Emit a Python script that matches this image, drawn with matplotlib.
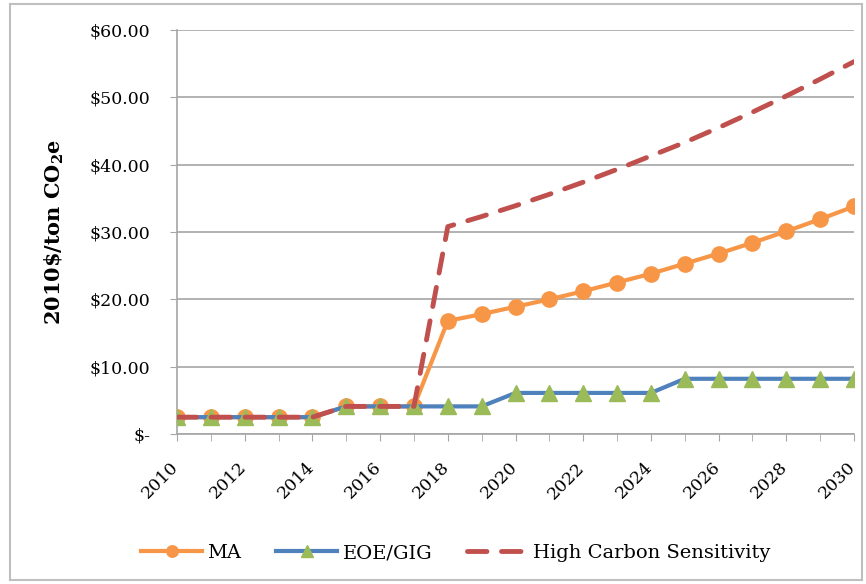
import matplotlib
matplotlib.use("Agg")
import matplotlib.pyplot as plt
from matplotlib.patches import Rectangle
from matplotlib.ticker import FuncFormatter
from matplotlib.transforms import ScaledTranslation

years = list(range(2010, 2031))
ma = [2.5, 2.5, 2.5, 2.5, 2.5, 4.1, 4.1, 4.1, 16.8, 17.8, 18.9, 20.0, 21.2,
      22.5, 23.8, 25.3, 26.8, 28.4, 30.1, 31.9, 33.8]
eoe_gig = [2.5, 2.5, 2.5, 2.5, 2.5, 4.1, 4.1, 4.1, 4.1, 4.1, 6.1, 6.1, 6.1,
           6.1, 6.1, 8.2, 8.2, 8.2, 8.2, 8.2, 8.2]
high_carbon = [2.5, 2.5, 2.5, 2.5, 2.5, 4.1, 4.1, 4.1, 30.8, 32.3, 33.9, 35.6,
               37.4, 39.3, 41.3, 43.3, 45.5, 47.8, 50.2, 52.7, 55.3]
y_ticks = [0, 10, 20, 30, 40, 50, 60]
x_ticks = list(range(2010, 2031, 2))

plt.rcParams['font.family'] = ['DejaVu Serif']
plt.rcParams['mathtext.fontset'] = 'dejavuserif'

fig = plt.figure(figsize=(8.66, 5.84), dpi=100)
ax = fig.add_axes([177/866, 1-434/584, (854-177)/866, (434-30)/584])

fig.patches.append(Rectangle((10/866, 4/584), 852/866, 576/584, transform=fig.transFigure,
                             fill=False, edgecolor='#BFBFBF', linewidth=1.5))

ax.plot(years, ma, color='#F79646', lw=3, marker='o', ms=11,
        markerfacecolor='#F79646', markeredgecolor='#F79646', label='MA', zorder=3)
ax.plot(years, eoe_gig, color='#4F81BD', lw=3, marker='^', ms=11,
        markerfacecolor='#9BBB59', markeredgecolor='#9BBB59', label='EOE/GIG', zorder=4)
ax.plot(years, high_carbon, color='#C0504D', lw=3.5, ls=(0, (4, 3)),
        label='High Carbon Sensitivity', zorder=5, dash_capstyle='round')

ax.set_xlim(2010, 2030)
ax.set_ylim(0, 60)
ax.set_yticks(y_ticks)
ax.set_xticks(x_ticks)
ax.set_xticks(years, minor=True)
ax.yaxis.set_major_formatter(FuncFormatter(lambda v, p: '$-' if v == 0 else f'${v:.2f}'))
ax.grid(axis='y', color='#A6A6A6', lw=1.2)
ax.set_axisbelow(True)
for s in ['top', 'right']:
    ax.spines[s].set_visible(False)
ax.spines['left'].set_color('#A6A6A6')
ax.spines['bottom'].set_color('#A6A6A6')
ax.spines['left'].set_linewidth(1.2)
ax.spines['bottom'].set_linewidth(1.2)
ax.tick_params(axis='y', length=5, color='#A6A6A6', labelsize=12.5, pad=14)
ax.tick_params(axis='x', which='both', length=5, color='#A6A6A6', labelsize=12.5, pad=13)
shift = ScaledTranslation(-5/72, 0, fig.dpi_scale_trans)
for lbl in ax.get_xticklabels():
    lbl.set_rotation(45)
    lbl.set_ha('right')
    lbl.set_va('top')
    lbl.set_rotation_mode('anchor')
    lbl.set_transform(lbl.get_transform() + shift)

ax.set_ylabel(r'2010\$/ton CO$_{\mathbf{2}}$e', fontsize=15, fontweight='bold', labelpad=17)

fig.legend(loc='center', bbox_to_anchor=(0.5266, 1-553/584), ncol=3, frameon=False,
           fontsize=14, handlelength=3.1, columnspacing=1.8, handletextpad=0.3,
           markerscale=0.75)

fig.savefig('out.png', dpi=100)
